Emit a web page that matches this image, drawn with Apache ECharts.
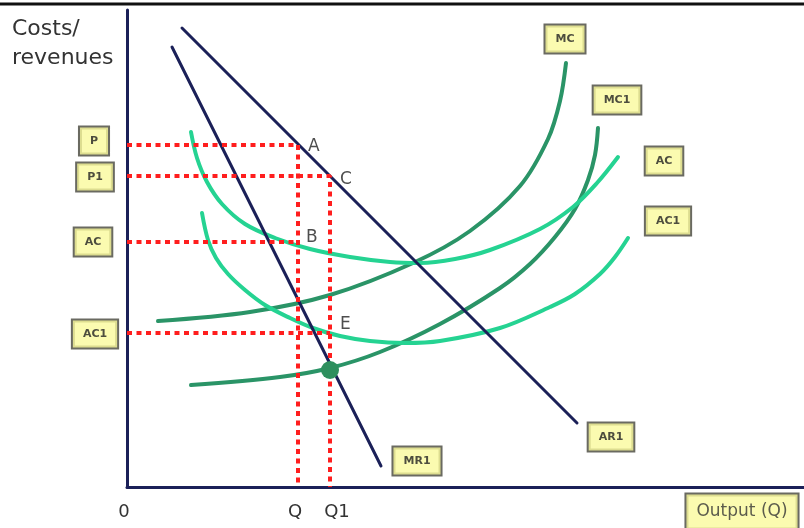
<!DOCTYPE html>
<html>
<head>
<meta charset="utf-8">
<script src="https://cdn.jsdelivr.net/npm/echarts@6/dist/echarts.min.js"></script>
<style>
html, body { margin: 0; padding: 0; background: #fff; }
#chart { width: 804px; height: 528px; }
</style>
</head>
<body>
<div id="chart"></div>
<script>
// 横轴 = 产量, 纵轴 = 成本/收益 (读图估计值)
var arLine = [[55, 459], [450, 64]];
var mrLine = [[45, 440], [254, 21]];
var mcCurve = [[31, 166], [123, 175], [203, 192], [286, 224], [343, 256], [393, 301], [421, 348],
  [433, 386], [439, 424]];
var mc1Curve = [[64, 102], [153, 110], [203, 119], [253, 135], [313, 163], [373, 199], [403, 223],
  [428, 250], [448, 278], [461, 307], [468, 332], [471, 359]];
var acCurve = [[64, 355], [70, 329], [80, 305], [95, 283], [118, 263], [148, 249], [183, 238],
  [223, 230], [263, 225], [293, 224], [328, 228], [363, 237], [413, 258], [446, 280], [470, 304], [491, 330]];
var ac1Curve = [[75, 274], [81, 247], [89, 229], [101, 213], [118, 197], [138, 182], [163, 169],
  [186, 159], [213, 151], [243, 146], [278, 144], [313, 146], [373, 159], [423, 180], [448, 193],
  [473, 213], [488, 230], [501, 249]];

var qValue = 171, q1Value = 203;
var pValue = 342, p1Value = 311, acValue = 245, ac1Value = 154;
var eqPoint = [[203, 117]];

var axisTicks = [0, qValue, q1Value];
var axisTickLabels = ['0', 'Q', 'Q1'];

// 黄色标签框
var boxNames = ['P', 'P1', 'AC', 'AC1', 'MC', 'MC1', 'AC', 'AC1', 'AR1', 'MR1'];
var boxX = [-33, -32, -34, -32, 438, 490, 537, 541, 484, 290];
var boxY = [346, 310, 245, 153, 448, 387, 326, 266, 50, 26];

var pointNames = ['A', 'C', 'B', 'E'];
var pointX = [qValue, q1Value, qValue, q1Value];
var pointY = [pValue, p1Value, acValue, ac1Value];

var navy = '#1b2058';
var darkGreen = '#2a9467';
var lightGreen = '#25d392';
var red = '#ff1e1e';
var pointOffset = { A: [0, 2], C: [0, 4], B: [-2, -4], E: [0, -8] };

var chart = echarts.init(document.getElementById('chart'));

function curve(data, color, width, smooth) {
  return {
    type: 'line', data: data, symbol: 'none', smooth: smooth, silent: true, clip: false,
    lineStyle: { color: color, width: width, cap: 'round' }, z: 3
  };
}
function dotted(data) {
  return {
    type: 'line', data: data, symbol: 'none', silent: true,
    lineStyle: { color: red, width: 4, type: [5, 4.5], cap: 'butt' }, z: 4
  };
}

var option = {
  animation: false,
  title: {
    text: 'Costs/\nrevenues', left: 7, top: 10,
    textStyle: { fontFamily: 'DejaVu Sans', fontSize: 22, fontWeight: 'normal', lineHeight: 29, color: '#333' }
  },
  grid: { left: 127, right: 0, top: 10, bottom: 41 },
  xAxis: {
    type: 'value', min: 0, max: 677,
    splitLine: { show: false }, axisTick: { show: false },
    axisLine: { onZero: false, lineStyle: { color: navy, width: 3 } },
    axisLabel: {
      customValues: axisTicks, margin: 16, color: '#333',
      fontFamily: 'DejaVu Sans', fontSize: 18,
      formatter: function (v) {
        var i = axisTicks.indexOf(v);
        return i === 2 ? '{r|' + axisTickLabels[i] + '}' : '{l|' + axisTickLabels[i] + '}';
      },
      rich: {
        l: { fontFamily: 'DejaVu Sans', fontSize: 18, color: '#333', padding: [0, 6, 0, 0] },
        r: { fontFamily: 'DejaVu Sans', fontSize: 18, color: '#333', padding: [0, 0, 0, 14] }
      }
    }
  },
  yAxis: {
    type: 'value', min: 0, max: 477,
    splitLine: { show: false }, axisTick: { show: false }, axisLabel: { show: false },
    axisLine: { onZero: false, lineStyle: { color: navy, width: 3 } }
  },
  graphic: [{
    type: 'line', shape: { x1: 0, y1: 4, x2: 804, y2: 4 },
    style: { stroke: '#111', lineWidth: 3 }
  }],
  series: [
    curve(mcCurve, darkGreen, 4, 0.35),
    curve(mc1Curve, darkGreen, 4, 0.35),
    curve(acCurve, lightGreen, 4, 0.35),
    curve(ac1Curve, lightGreen, 4, 0.35),
    dotted([[0, pValue], [qValue, pValue], [qValue, 0]]),
    dotted([[0, p1Value], [q1Value, p1Value], [q1Value, 0]]),
    dotted([[0, acValue], [qValue, acValue]]),
    dotted([[0, ac1Value], [q1Value, ac1Value]]),
    curve(arLine, navy, 3, false),
    curve(mrLine, navy, 3, false),
    {
      type: 'scatter', data: eqPoint, symbolSize: 18, silent: true, z: 6,
      itemStyle: { color: '#2e8f5e', opacity: 1 }
    },
    {
      type: 'scatter', symbolSize: 0, silent: true, z: 7,
      data: pointNames.map(function (n, i) {
        return {
          value: [pointX[i], pointY[i]],
          label: { offset: pointOffset[n] }
        };
      }),
      label: {
        show: true, position: 'right', distance: 10,
        formatter: function (p) { return pointNames[p.dataIndex]; },
        fontFamily: 'DejaVu Sans', fontSize: 17, color: '#222'
      }
    },
    {
      type: 'scatter', symbolSize: 0, silent: true, clip: false, z: 8,
      data: boxNames.map(function (n, i) { return [boxX[i], boxY[i]]; }),
      label: {
        show: true, position: 'inside',
        formatter: function (p) { return boxNames[p.dataIndex]; },
        fontFamily: 'DejaVu Sans', fontSize: 11, fontWeight: 'bold', color: '#222',
        backgroundColor: '#fafa9c', borderColor: '#45453a', borderWidth: 2,
        padding: [8, 10]
      }
    },
    {
      type: 'scatter', symbolSize: 0, silent: true, clip: false, z: 8,
      data: [[615, -25]],
      label: {
        show: true, position: 'inside', formatter: 'Output (Q)',
        fontFamily: 'DejaVu Sans', fontSize: 17, color: '#333',
        backgroundColor: '#fafa9c', borderColor: '#45453a', borderWidth: 2,
        padding: [9, 10]
      }
    }
  ]
};
chart.setOption(option);
</script>
</body>
</html>
